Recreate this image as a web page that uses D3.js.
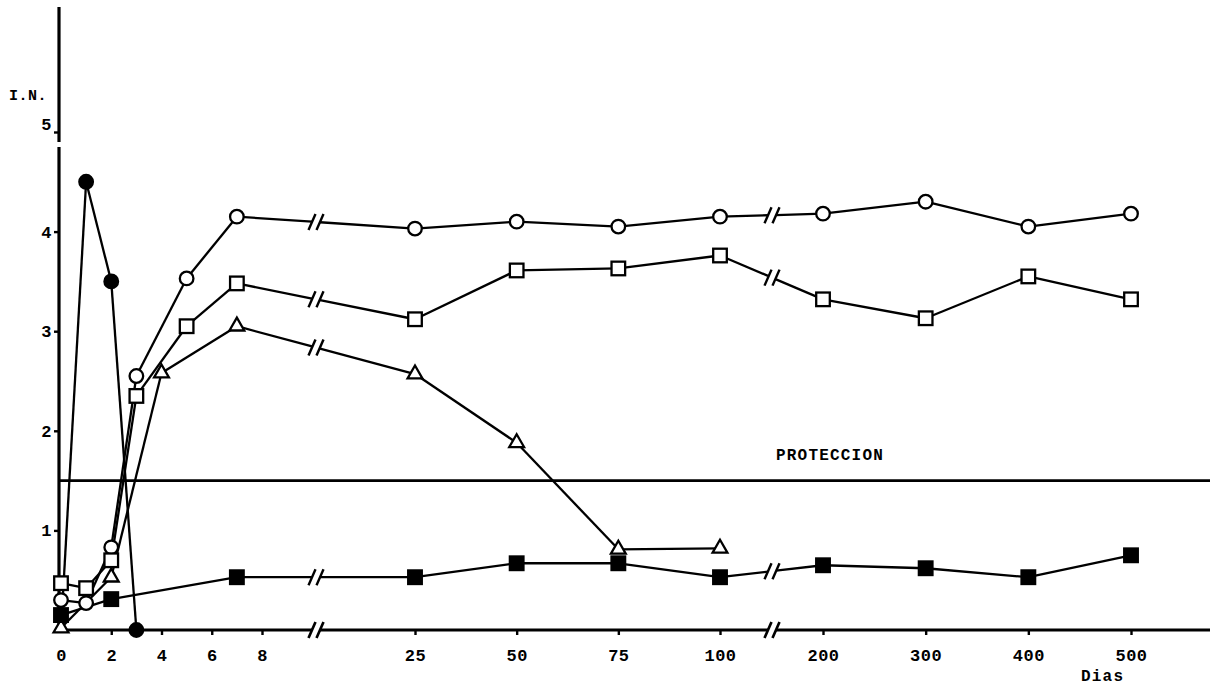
<!DOCTYPE html>
<html>
<head>
<meta charset="utf-8">
<script src="https://cdn.jsdelivr.net/npm/d3@7"></script>
<style>
html,body{margin:0;padding:0;background:#fff;}
svg{display:block;}
</style>
</head>
<body>
<svg id="chart" width="1217" height="691"></svg>
<script>
// ---- data ----
const xTickValues = [0, 2, 4, 6, 8, 25, 50, 75, 100, 200, 300, 400, 500];
const yTickValues = [1, 2, 3, 4, 5];
const protectionLevel = 1.5;

const circleDays = [0, 1, 2, 3, 5, 7, 25, 50, 75, 100, 200, 300, 400, 500];
const circleVals = [0.30, 0.27, 0.83, 2.55, 3.53, 4.15, 4.03, 4.10, 4.05, 4.15, 4.18, 4.30, 4.05, 4.18];

const squareDays = [0, 1, 2, 3, 5, 7, 25, 50, 75, 100, 200, 300, 400, 500];
const squareVals = [0.47, 0.42, 0.70, 2.35, 3.05, 3.48, 3.12, 3.61, 3.63, 3.76, 3.32, 3.13, 3.55, 3.32];

const triangleDays = [0, 2, 4, 7, 25, 50, 75, 100];
const triangleVals = [0.02, 0.53, 2.58, 3.05, 2.57, 1.88, 0.81, 0.82];

const filledSquareDays = [0, 2, 7, 25, 50, 75, 100, 200, 300, 400, 500];
const filledSquareVals = [0.15, 0.31, 0.53, 0.53, 0.67, 0.67, 0.53, 0.65, 0.62, 0.53, 0.75];

// first point (origin) has no visible marker in the reference
const filledCircleDays = [0, 1, 2, 3];
const filledCircleVals = [0.0, 4.5, 3.5, 0.0];
const filledCircleMarked = [false, true, true, true];

// ---- scales ----
const svg = d3.select("#chart");
const x = d3.scaleLinear().domain([0, 8, 25, 100, 200, 500]).range([61, 262, 415, 720, 823, 1131]);
const y = d3.scaleLinear().domain([0, 5]).range([630, 132]);
const breakXs = [316, 772];
const FONT = "'Liberation Mono', 'DejaVu Sans Mono', monospace";

// ---- axes ----
const xAxis = d3.axisBottom(x).tickValues(xTickValues).tickSize(5).tickPadding(14).tickFormat(d3.format("d"));
const gx = svg.append("g").attr("transform", `translate(0,${y(0)})`).call(xAxis);
gx.select(".domain").remove();
gx.selectAll(".tick line").attr("stroke", "#000").attr("stroke-width", 2.4);
gx.selectAll(".tick").filter(d => d === 0).select("line").remove();
gx.selectAll(".tick text").attr("font-family", FONT).attr("font-weight", "bold")
  .attr("font-size", 17).attr("fill", "#000").attr("letter-spacing", 0.5);

const yAxis = d3.axisLeft(y).tickValues(yTickValues).tickSize(5).tickPadding(12).tickFormat(d3.format("d"));
const gy = svg.append("g").attr("transform", `translate(59,0)`).call(yAxis);
gy.select(".domain").remove();
gy.selectAll(".tick line").attr("stroke", "#000").attr("stroke-width", 2.4);
gy.selectAll(".tick text").attr("font-family", FONT).attr("font-weight", "bold")
  .attr("font-size", 17).attr("fill", "#000").attr("text-anchor", "middle").attr("dx", "0.25em");
gy.selectAll(".tick").filter(d => d === 5).select("text").attr("dy", "-0.15em");

// slashes for a break
function drawSlashes(g, bx, by, gap, w) {
  [-gap, gap].forEach(off => {
    g.append("line")
      .attr("x1", bx + off - 3.5).attr("y1", by + 8)
      .attr("x2", bx + off + 3.5).attr("y2", by - 8)
      .attr("stroke", "#000").attr("stroke-width", w);
  });
}

// x axis line with breaks
const axisG = svg.append("g");
const xAxisSegs = [[57, breakXs[0] - 4], [breakXs[0] + 4, breakXs[1] - 4], [breakXs[1] + 4, 1210]];
xAxisSegs.forEach(s => axisG.append("line").attr("x1", s[0]).attr("x2", s[1])
  .attr("y1", y(0)).attr("y2", y(0)).attr("stroke", "#000").attr("stroke-width", 3.2));
breakXs.forEach(bx => drawSlashes(axisG, bx, y(0), 4, 2.6));

// y axis line with a gap just under 5
axisG.append("line").attr("x1", 59).attr("x2", 59).attr("y1", 7).attr("y2", 142)
  .attr("stroke", "#000").attr("stroke-width", 3.2);
axisG.append("line").attr("x1", 59).attr("x2", 59).attr("y1", 147).attr("y2", y(0) + 1.5)
  .attr("stroke", "#000").attr("stroke-width", 3.2);

// labels
svg.append("text").attr("x", 9).attr("y", 100).text("I.N.")
  .attr("font-family", FONT).attr("font-weight", "bold").attr("font-size", 15).attr("fill", "#000")
  .attr("letter-spacing", 0.5);
svg.append("text").attr("x", 1081).attr("y", 681).text("Dias")
  .attr("font-family", FONT).attr("font-weight", "bold").attr("font-size", 16).attr("fill", "#000")
  .attr("letter-spacing", 1.2);
svg.append("text").attr("x", 776).attr("y", 460).text("PROTECCION")
  .attr("font-family", FONT).attr("font-weight", "bold").attr("font-size", 16).attr("fill", "#000")
  .attr("letter-spacing", 1.2);

// protection line
svg.append("line").attr("x1", 59).attr("x2", 1210)
  .attr("y1", y(protectionLevel)).attr("y2", y(protectionLevel))
  .attr("stroke", "#000").attr("stroke-width", 2.6);

// ---- series ----
const series = [
  {days: filledCircleDays, vals: filledCircleVals, shape: "circle", fill: "#000", marked: filledCircleMarked},
  {days: circleDays, vals: circleVals, shape: "circle", fill: "#fff"},
  {days: squareDays, vals: squareVals, shape: "square", fill: "#fff"},
  {days: triangleDays, vals: triangleVals, shape: "triangle", fill: "#fff"},
  {days: filledSquareDays, vals: filledSquareVals, shape: "square", fill: "#000"}
];

const linesG = svg.append("g");
const marksG = svg.append("g");
const GAP = 4;
const LW = 2.3;

series.forEach(s => {
  const pts = s.days.map((d, i) => [x(d), y(s.vals[i])]);
  for (let i = 0; i < pts.length - 1; i++) {
    const [x0, y0] = pts[i], [x1, y1] = pts[i + 1];
    const bx = breakXs.find(b => x0 < b && x1 > b);
    if (bx === undefined) {
      linesG.append("line").attr("x1", x0).attr("y1", y0).attr("x2", x1).attr("y2", y1)
        .attr("stroke", "#000").attr("stroke-width", LW);
    } else {
      const yAt = xx => y0 + (y1 - y0) * (xx - x0) / (x1 - x0);
      linesG.append("line").attr("x1", x0).attr("y1", y0).attr("x2", bx - GAP).attr("y2", yAt(bx - GAP))
        .attr("stroke", "#000").attr("stroke-width", LW);
      linesG.append("line").attr("x1", bx + GAP).attr("y1", yAt(bx + GAP)).attr("x2", x1).attr("y2", y1)
        .attr("stroke", "#000").attr("stroke-width", LW);
      drawSlashes(linesG, bx, yAt(bx), GAP, 2.4);
    }
  }
  pts.forEach((p, i) => {
    if (s.marked && !s.marked[i]) return;
    if (s.shape === "circle") {
      marksG.append("circle").attr("cx", p[0]).attr("cy", p[1]).attr("r", 6.8)
        .attr("fill", s.fill).attr("stroke", "#000").attr("stroke-width", 2.3);
    } else if (s.shape === "square") {
      marksG.append("rect").attr("x", p[0] - 6.8).attr("y", p[1] - 6.8).attr("width", 13.6).attr("height", 13.6)
        .attr("fill", s.fill).attr("stroke", "#000").attr("stroke-width", 2.3);
    } else {
      marksG.append("path").attr("d", d3.symbol().type(d3.symbolTriangle).size(95)())
        .attr("transform", `translate(${p[0]},${p[1]})`)
        .attr("fill", s.fill).attr("stroke", "#000").attr("stroke-width", 2.3);
    }
  });
});
</script>
</body>
</html>
